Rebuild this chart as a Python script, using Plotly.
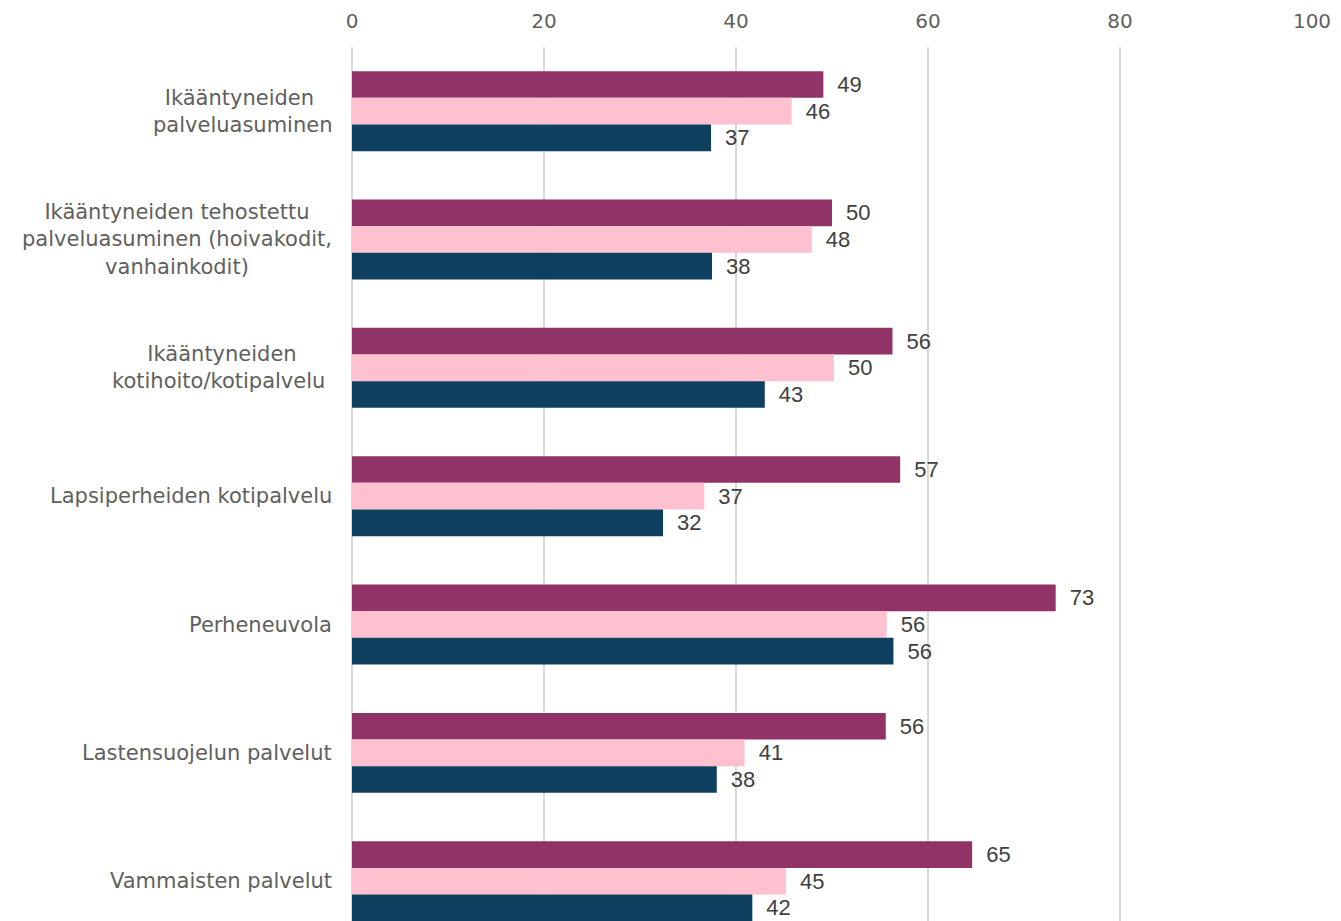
import plotly.graph_objects as go

categories = [
    "Ikääntyneiden\u00a0<br>palveluasuminen",
    "Ikääntyneiden tehostettu<br>palveluasuminen (hoivakodit,<br>vanhainkodit)",
    "Ikääntyneiden<br>kotihoito/kotipalvelu\u00a0",
    "Lapsiperheiden kotipalvelu",
    "Perheneuvola",
    "Lastensuojelun palvelut",
    "Vammaisten palvelut",
]
cat_keys = ["c1", "c2", "c3", "c4", "c5", "c6", "c7"]

series_a = [49.1, 50.0, 56.3, 57.1, 73.3, 55.6, 64.6]
series_b = [45.8, 47.9, 50.2, 36.7, 55.7, 40.9, 45.2]
series_c = [37.4, 37.5, 43.0, 32.4, 56.4, 38.0, 41.7]

colors = ["#913366", "#FFC0CF", "#10405F"]
series = [series_a, series_b, series_c]

LABEL_FONT = "DejaVu Sans"
VALUE_FONT = "Liberation Sans"

fig = go.Figure()
for vals, col in zip(series, colors):
    fig.add_trace(go.Bar(
        y=cat_keys, x=vals, orientation="h",
        marker=dict(color=col, line=dict(width=0)),
        texttemplate="\u2002%{x:.0f}", textposition="outside",
        textfont=dict(family=VALUE_FONT, size=22, color="#404040"),
        cliponaxis=False, showlegend=False, hoverinfo="x+y",
    ))

annotations = []
for key, label in zip(cat_keys, categories):
    annotations.append(dict(
        x=0, xref="paper", y=key, yref="y", xanchor="right", yanchor="middle",
        xshift=-18, text=label, showarrow=False, align="center",
        font=dict(family=LABEL_FONT, size=21, color="#5f5f5f"),
    ))

fig.update_layout(
    width=1333, height=913,
    margin=dict(l=344, r=29, t=39, b=0, autoexpand=False),
    paper_bgcolor="white", plot_bgcolor="white",
    barmode="group", bargap=0.377, bargroupgap=0,
    annotations=annotations,
    xaxis=dict(
        side="top", range=[0, 100], dtick=20, tick0=0, automargin=False,
        showgrid=True, gridcolor="#d9d9d9", gridwidth=1.5,
        zeroline=True, zerolinecolor="#d9d9d9", zerolinewidth=1.5,
        showline=False, ticks="", ticklabelstandoff=14,
        tickfont=dict(family=LABEL_FONT, size=20, color="#5f5f5f"),
    ),
    yaxis=dict(
        type="category", range=[6.31, -0.5], showticklabels=False,
        automargin=False,
        showgrid=False, zeroline=False, showline=False,
    ),
)

fig.write_html("out.html")
